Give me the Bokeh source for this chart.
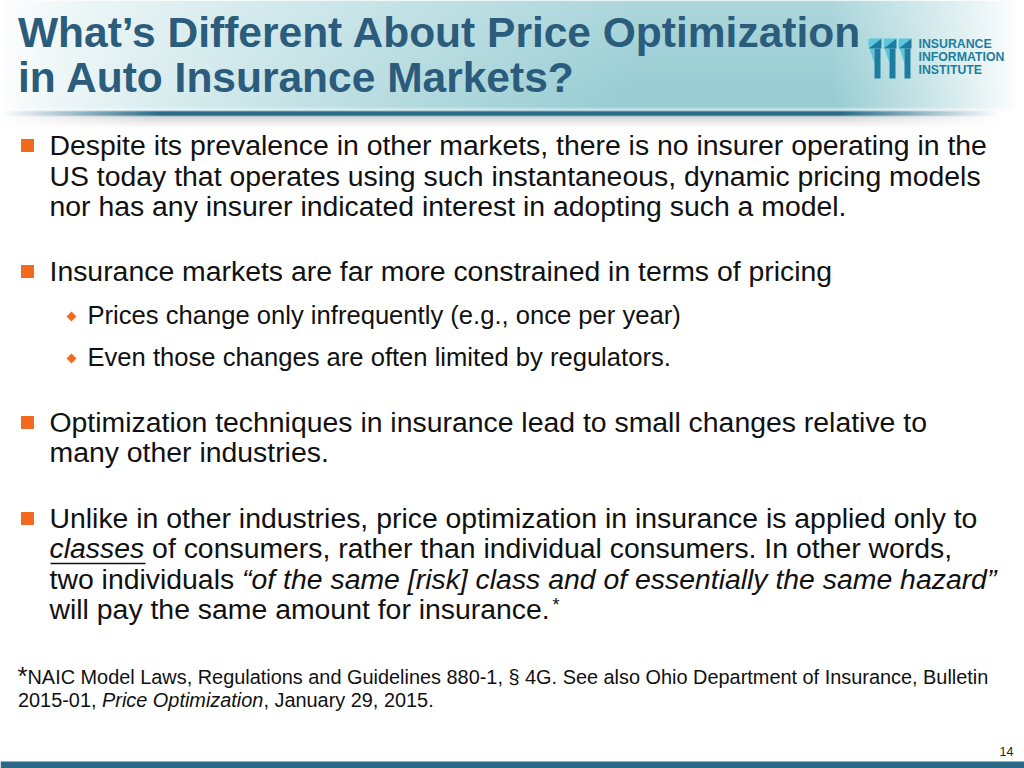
import numpy as np
from bokeh.plotting import figure
from bokeh.models import Range1d, ColumnDataSource
from bokeh.core.properties import value
from bokeh.embed import file_html
from bokeh.resources import INLINE

# ---------------- content ----------------
title_lines = ["What\u2019s Different About Price Optimization", "in Auto Insurance Markets?"]
logo_words = ["INSURANCE", "INFORMATION", "INSTITUTE"]

bullet_1 = ["Despite its prevalence in other markets, there is no insurer operating in the",
            "US today that operates using such instantaneous, dynamic pricing models",
            "nor has any insurer indicated interest in adopting such a model."]
bullet_2 = ["Insurance markets are far more constrained in terms of pricing"]
sub_bullets = ["Prices change only infrequently (e.g., once per year)",
               "Even those changes are often limited by regulators."]
bullet_3 = ["Optimization techniques in insurance lead to small changes relative to",
            "many other industries."]
bullet_4_line1 = "Unlike in other industries, price optimization in insurance is applied only to"
bullet_4_line2 = ["classes", "of consumers, rather than individual consumers. In other words,"]
bullet_4_line3 = ["two individuals", "\u201cof the same [risk] class and of essentially the same hazard\u201d"]
bullet_4_line4 = ["will pay the same amount for insurance.", "*"]

footnote_line1 = ["*", "NAIC Model Laws, Regulations and Guidelines 880-1, \u00a7 4G. See also Ohio Department of Insurance, Bulletin"]
footnote_line2 = ["2015-01,", "Price Optimization", ", January 29, 2015."]
page_number = "14"

# ---------------- style ----------------
FONT = value("Liberation Sans")
TITLE_COLOR = "#2b5c7c"
ORANGE = "#f26a1e"
TEXT = "#111111"
LOGO_DARK = "#1b7ea1"
LOGO_LIGHT = "#5cc6db"
SIZES = {"title": 42.5, "body": 28.4, "sub": 25.6, "foot": 19.9, "logo": 12.3, "page": 12.5}
SHIFT = 0.38  # the renderer places alphabetic text this many em lower


def base(b, size):
    return b - SHIFT * size


p = figure(width=1024, height=768, x_range=Range1d(0, 1024), y_range=Range1d(768, 0),
           output_backend="svg", toolbar_location=None, min_border=0,
           x_axis_location=None, y_axis_location=None)
p.outline_line_color = None
p.xgrid.visible = False
p.ygrid.visible = False
p.background_fill_color = "white"
p.border_fill_color = "white"

# ---------------- title band gradient ----------------
W, H = 512, 130
xs = np.linspace(0, 1024, W)
rise = np.clip(xs / 640.0, 0, 1) ** 0.75
fall = np.clip((1018 - xs) / 190.0, 0, 1) ** 0.9
hprof = rise * fall
rows = np.arange(H)
teal = np.array([150, 204, 210], dtype=float)
img = np.ones((H, W, 3)) * 255.0
band_v = np.where(rows < 106, 0.78 + 0.22 * np.clip(rows / 100.0, 0, 1),
                  np.clip(1 - (rows - 106) / 5.0, 0, 1))
for c in range(3):
    img[:, :, c] = 255 - (255 - teal[c]) * band_v[:, None] * hprof[None, :]
lprof = np.clip(xs / 160.0, 0, 1) * np.clip((1000 - xs) / 160.0, 0, 1)
dark = np.array([30, 100, 130], dtype=float)
grey = np.array([140, 140, 140], dtype=float)
for r in range(H):
    if 110 <= r <= 115:
        a = lprof * (0.95 if 111 <= r <= 114 else 0.5)
        img[r] = img[r] * (1 - a[:, None]) + dark[None, :] * a[:, None]
    elif 116 <= r <= 126:
        a = lprof * 0.35 * (1 - (r - 116) / 11.0)
        img[r] = img[r] * (1 - a[:, None]) + grey[None, :] * a[:, None]
rgba = np.empty((H, W), dtype=np.uint32)
view = rgba.view(dtype=np.uint8).reshape((H, W, 4))
view[:, :, 0:3] = np.clip(img, 0, 255).astype(np.uint8)
view[:, :, 3] = 255
p.image_rgba(image=[rgba], x=0, y=0, dw=1024, dh=H)

# ---------------- title ----------------
ts = SIZES["title"]
p.text(x=[17.5, 17.5], y=[base(48.5, ts), base(93, ts)], text=title_lines, text_font=FONT,
       text_font_style="bold", text_font_size=f"{ts}px", text_color=TITLE_COLOR,
       text_baseline="alphabetic")

# ---------------- logo ----------------
dark_x, dark_y, light_x, light_y = [], [], [], []
for i in range(3):
    x0 = 868 + 15 * i
    light_x.append([x0, x0 + 13, x0]); light_y.append([38, 38, 48])
    dark_x.append([x0 + 13, x0 + 13, x0]); dark_y.append([38, 48, 48])
    dark_x.append([x0 + 6, x0 + 12, x0 + 12, x0 + 6]); dark_y.append([48, 48, 78, 78])
    light_x.append([x0 + 1, x0 + 6, x0 + 6]); light_y.append([48, 48, 63])
p.patches(xs=light_x, ys=light_y, fill_color=LOGO_LIGHT, line_color=None)
p.patches(xs=dark_x, ys=dark_y, fill_color=LOGO_DARK, line_color=None)
ls = SIZES["logo"]
p.text(x=[918] * 3, y=[base(48, ls), base(61, ls), base(74, ls)], text=logo_words, text_font=FONT,
       text_font_style="bold", text_font_size=f"{ls}px", text_color=LOGO_DARK,
       text_baseline="alphabetic")


# ---------------- bullets ----------------
def put(x, b, txt, key, style="normal", size=None):
    s = size if size is not None else SIZES[key]
    p.text(x=[x], y=[base(b, s)], text=[txt], text_font=FONT, text_font_size=f"{s}px",
           text_font_style=style, text_color=TEXT, text_baseline="alphabetic")


def lines(x, bs, texts, key):
    s = SIZES[key]
    src = ColumnDataSource(dict(x=[x] * len(texts), y=[base(b, s) for b in bs], t=texts))
    p.text(x="x", y="y", text="t", source=src, text_font=FONT, text_font_size=f"{s}px",
           text_color=TEXT, text_baseline="alphabetic")


BX = 49
lines(BX, [155, 186, 216.5], bullet_1, "body")
lines(BX, [281], bullet_2, "body")
lines(87, [324, 366], sub_bullets, "sub")
lines(BX, [432, 462.5], bullet_3, "body")
lines(BX, [528], [bullet_4_line1], "body")

put(BX, 558.5, bullet_4_line2[0], "body", "italic")
p.segment(x0=[BX + 1], y0=[563], x1=[BX + 96], y1=[563], line_color=TEXT, line_width=1.6)
put(BX + 102.6, 558.5, bullet_4_line2[1], "body")
put(BX, 589, bullet_4_line3[0], "body")
put(BX + 192.6, 589, bullet_4_line3[1], "body", "italic")
put(BX, 619.5, bullet_4_line4[0], "body")
put(BX + 503, 611, bullet_4_line4[1], "body", size=18)

p.rect(x=[27, 27, 27, 27], y=[145, 271, 422, 518], width=13, height=13,
       fill_color=ORANGE, line_color=None)
p.scatter(x=[71, 71], y=[316, 358], marker="square", size=7, angle=np.pi / 4,
          fill_color=ORANGE, line_color=None)

# ---------------- footnote ----------------
put(17, 685, footnote_line1[0], "foot", size=26)
put(27, 684, footnote_line1[1], "foot")
put(17.5, 707, footnote_line2[0], "foot")
put(101.5, 707, footnote_line2[1], "foot", "italic")
put(262.9, 707, footnote_line2[2], "foot")

# ---------------- page number and bottom bar ----------------
ps = SIZES["page"]
p.text(x=[1013], y=[base(756, ps)], text=[page_number], text_font=FONT, text_font_size=f"{ps}px",
       text_color="#222222", text_align="right", text_baseline="alphabetic")
p.quad(left=[0], right=[1024], top=[761], bottom=[768], fill_color="#2a6886", line_color=None)

open("out.html", "w").write(file_html(p, INLINE))
